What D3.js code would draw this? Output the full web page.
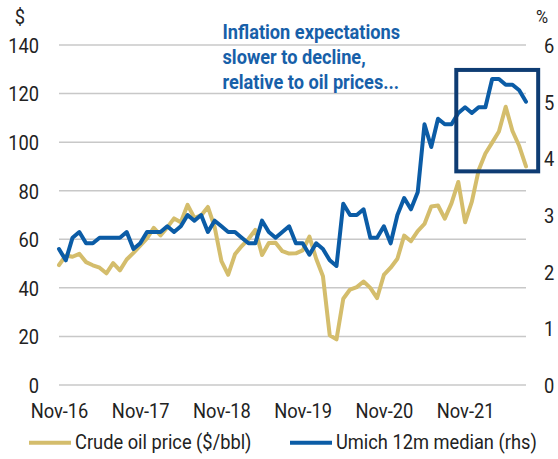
<!DOCTYPE html>
<html><head><meta charset="utf-8">
<script src="https://cdn.jsdelivr.net/npm/d3@7"></script>
<style>
html,body{margin:0;padding:0;background:#fff;}
svg{display:block;font-family:Roboto,"Noto Sans",sans-serif;}
</style></head><body>
<svg id="chart" width="558" height="459"></svg>
<script>
// ---------- data ----------
const months = [
 "Nov-16","Dec-16",
 "Jan-17","Feb-17","Mar-17","Apr-17","May-17","Jun-17","Jul-17","Aug-17","Sep-17","Oct-17","Nov-17","Dec-17",
 "Jan-18","Feb-18","Mar-18","Apr-18","May-18","Jun-18","Jul-18","Aug-18","Sep-18","Oct-18","Nov-18","Dec-18",
 "Jan-19","Feb-19","Mar-19","Apr-19","May-19","Jun-19","Jul-19","Aug-19","Sep-19","Oct-19","Nov-19","Dec-19",
 "Jan-20","Feb-20","Mar-20","Apr-20","May-20","Jun-20","Jul-20","Aug-20","Sep-20","Oct-20","Nov-20","Dec-20",
 "Jan-21","Feb-21","Mar-21","Apr-21","May-21","Jun-21","Jul-21","Aug-21","Sep-21","Oct-21","Nov-21","Dec-21",
 "Jan-22","Feb-22","Mar-22","Apr-22","May-22","Jun-22","Jul-22","Aug-22"
];
const oilPrice = [
 49.4,53.3,
 52.8,54.0,50.6,49.3,48.3,46.0,50.2,47.2,51.7,54.4,57.4,60.4,
 64.7,61.6,64.9,68.6,67.0,74.2,68.8,69.8,73.3,65.0,51.0,45.4,
 53.8,57.2,60.1,63.9,53.5,58.5,58.6,55.1,54.1,54.2,55.4,61.1,
 52.0,44.8,20.5,18.8,35.5,39.3,40.3,42.6,40.0,35.8,45.3,48.3,
 52.0,61.5,59.2,63.4,66.3,73.5,73.9,68.5,74.9,83.6,67.0,75.5,
 88.4,95.3,99.8,104.4,114.6,104.6,98.4,90.0
];
const umichMedian = [
 2.4,2.2,
 2.6,2.7,2.5,2.5,2.6,2.6,2.6,2.6,2.7,2.4,2.5,2.7,
 2.7,2.7,2.8,2.7,2.8,3.0,2.9,3.0,2.7,2.9,2.8,2.7,
 2.7,2.6,2.5,2.5,2.9,2.7,2.6,2.7,2.8,2.5,2.5,2.3,
 2.5,2.4,2.2,2.1,3.2,3.0,3.0,3.1,2.6,2.6,2.8,2.5,
 3.0,3.3,3.1,3.4,4.6,4.2,4.7,4.6,4.6,4.8,4.9,4.8,
 4.9,4.9,5.4,5.4,5.3,5.3,5.2,5.0
];
const xTickLabels = ["Nov-16","Nov-17","Nov-18","Nov-19","Nov-20","Nov-21"];
const leftTicks = [0,20,40,60,80,100,120,140];
const rightTicks = [0,1,2,3,4,5,6];
const leftUnit = "$";
const rightUnit = "%";
const titleLines = ["Inflation expectations","slower to decline,","relative to oil prices..."];
const seriesNames = ["Crude oil price ($/bbl)","Umich 12m median (rhs)"];
const seriesColors = ["#D4BD6C","#0B5CA6"];
// highlight box: month index range and right-axis % range
const boxIdx = [58.7, 70.8];
const boxPct = [3.77, 5.56];

// ---------- layout ----------
const S = 0.87; // horizontal condensing of text
const svg = d3.select("#chart");
const x = d3.scalePoint().domain(months).range([59, 526]);
const yL = d3.scaleLinear().domain([0, 140]).range([385, 45]);
const yR = d3.scaleLinear().domain([0, 6]).range([385, 45]);
const xi = i => x(months[0]) + i * x.step();

function ctext(g, realX, y, txt, s = S) {
  return g.append("text").attr("x", realX / s).attr("y", y)
    .attr("transform", `scale(${s},1)`).text(txt);
}

// gridlines
svg.append("g").selectAll("line").data(leftTicks).join("line")
  .attr("x1", 59).attr("x2", 526)
  .attr("y1", d => yL(d)).attr("y2", d => yL(d))
  .attr("stroke", "#C8C8C8").attr("stroke-width", 1.5);

// left axis
const gL = svg.append("g").attr("transform", "translate(39,0)")
  .call(d3.axisLeft(yL).tickValues(leftTicks).tickSize(0).tickPadding(0).tickFormat(d3.format("d")));
gL.select(".domain").remove();
gL.selectAll("text").attr("font-size", 21).attr("fill", "#222").attr("dy", "0.35em")
  .attr("transform", `scale(${S},1)`).style("font-family", "Roboto");

// right axis
const gR = svg.append("g").attr("transform", "translate(544,0)")
  .call(d3.axisRight(yR).tickValues(rightTicks).tickSize(0).tickPadding(0).tickFormat(d3.format("d")));
gR.select(".domain").remove();
gR.selectAll("text").attr("font-size", 21).attr("fill", "#222").attr("dy", "0.35em")
  .attr("transform", `scale(${S},1)`).style("font-family", "Roboto");

// bottom axis
const gB = svg.append("g").attr("transform", "translate(0,385)")
  .call(d3.axisBottom(x).tickValues(xTickLabels).tickSize(0).tickPadding(18));
gB.select(".domain").remove();
gB.selectAll("text").attr("font-size", 21).attr("fill", "#222")
  .attr("transform", `scale(${S},1)`).style("font-family", "Roboto");

// unit labels
const gU = svg.append("g").attr("font-size", 21).attr("fill", "#222").attr("text-anchor", "middle");
ctext(gU, 20, 16.5, leftUnit).attr("dy", "0.35em");
ctext(gU, 542, 16.5, rightUnit).attr("dy", "0.35em").attr("font-size", 19);

// lines
const lineL = d3.line().x((d, i) => x(months[i])).y(d => yL(d));
const lineR = d3.line().x((d, i) => x(months[i])).y(d => yR(d));
svg.append("path").datum(oilPrice).attr("d", lineL)
  .attr("fill", "none").attr("stroke", seriesColors[0]).attr("stroke-width", 4)
  .attr("stroke-linejoin", "round").attr("stroke-linecap", "round");
svg.append("path").datum(umichMedian).attr("d", lineR)
  .attr("fill", "none").attr("stroke", seriesColors[1]).attr("stroke-width", 4)
  .attr("stroke-linejoin", "round").attr("stroke-linecap", "round");

// highlight box
svg.append("rect")
  .attr("x", xi(boxIdx[0])).attr("y", yR(boxPct[1]))
  .attr("width", xi(boxIdx[1]) - xi(boxIdx[0]))
  .attr("height", yR(boxPct[0]) - yR(boxPct[1]))
  .attr("fill", "none").attr("stroke", "#0E3C73").attr("stroke-width", 4);

// title annotation
const gT = svg.append("g").attr("font-size", 20).attr("font-weight", "bold").attr("fill", "#1760A9");
titleLines.forEach((t, i) => ctext(gT, 222.5, 39.5 + i * 24.8, t, 0.91));

// legend
const legX = [29, 290];
const gLeg = svg.append("g").attr("font-size", 21).attr("fill", "#222");
seriesNames.forEach((n, i) => {
  gLeg.append("line").attr("x1", legX[i]).attr("x2", legX[i] + 42)
    .attr("y1", 442.7).attr("y2", 442.7)
    .attr("stroke", seriesColors[i]).attr("stroke-width", 4);
  ctext(gLeg, legX[i] + 46, 449.5, n);
});
</script>
</body></html>
